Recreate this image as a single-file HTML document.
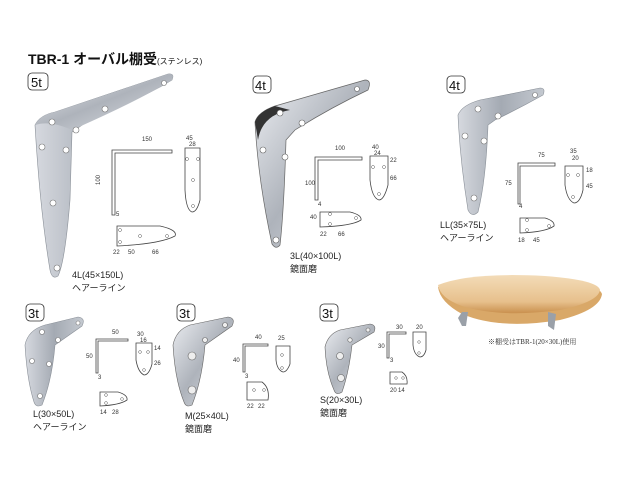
<!DOCTYPE html>
<html><head><meta charset="utf-8"><style>
html,body{margin:0;padding:0;background:#fff;}
svg{display:block;font-family:"Liberation Sans","Noto Sans CJK JP",sans-serif;}
.t{font-size:9px;fill:#222}
.d{font-size:6px;fill:#333}
.ln{stroke:#444;stroke-width:0.8;fill:none}
.b{font-size:13px;fill:#111}
</style></head><body>
<svg width="617" height="488" viewBox="0 0 617 488">
<defs>
<linearGradient id="m1" x1="0" y1="0" x2="1" y2="0"><stop offset="0" stop-color="#d6d9df"/><stop offset="0.5" stop-color="#a4aab3"/><stop offset="1" stop-color="#c4c9d0"/></linearGradient>
<linearGradient id="m2" x1="0" y1="0" x2="1" y2="1"><stop offset="0" stop-color="#eceef2"/><stop offset="0.5" stop-color="#aeb3bb"/><stop offset="1" stop-color="#dfe2e7"/></linearGradient>
<linearGradient id="wd" x1="0" y1="0" x2="0" y2="1"><stop offset="0" stop-color="#f3dcb8"/><stop offset="0.7" stop-color="#e7c08c"/><stop offset="1" stop-color="#c9904e"/></linearGradient>
</defs>
<text x="28" y="64" font-size="14" font-weight="bold" fill="#111">TBR-1 オーバル棚受<tspan font-size="8" font-weight="normal">(ステンレス)</tspan></text>
<g fill="none" stroke="#333" stroke-width="0.8">
<rect x="28" y="73" width="20" height="17" rx="4"/>
<rect x="253" y="76" width="18" height="17" rx="4"/>
<rect x="447" y="76" width="18" height="17" rx="4"/>
<rect x="26" y="304" width="18" height="17" rx="4"/>
<rect x="177" y="304" width="18" height="17" rx="4"/>
<rect x="320" y="304" width="18" height="17" rx="4"/>
</g>
<text x="31" y="87" class="b">5t</text>
<text x="255" y="90" class="b">4t</text>
<text x="449" y="90" class="b">4t</text>
<text x="28" y="318" class="b">3t</text>
<text x="179" y="318" class="b">3t</text>
<text x="322" y="318" class="b">3t</text>

<path d="M35,125 Q40,115 55,112 L168,74 Q175,73 172,80 Q140,100 110,106 L72,132 L70,200 Q65,262 58,276 Q52,280 50,270 Q40,210 35,125Z" fill="url(#m1)" stroke="#8a9098" stroke-width="0.6"/>
<path d="M35,125 Q40,115 55,112 L168,74 Q175,73 172,80 Q140,100 72,130 Q50,120 35,125Z" fill="url(#m2)"/>
<g fill="#fff" stroke="#777" stroke-width="0.6"><circle cx="42" cy="147" r="3"/><circle cx="66" cy="150" r="3"/><circle cx="53" cy="203" r="3"/><circle cx="57" cy="268" r="3"/><circle cx="52" cy="122" r="3"/><circle cx="76" cy="130" r="3"/><circle cx="105" cy="109" r="3"/><circle cx="164" cy="83" r="2.5"/></g>
<path class="ln" d="M112,150 L112,215 L115,215 L115,153 L172,153 L172,150Z"/>
<text x="142" y="141" class="d">150</text><text x="95" y="180" class="d" transform="rotate(-90 100 180)">100</text><text x="116" y="216" class="d">5</text>
<path class="ln" d="M185,148 L200,148 L200,200 Q197,212 192,212 Q186,210 185,190Z"/>
<text x="186" y="140" class="d">45</text><text x="189" y="146" class="d">28</text>
<g fill="#fff" stroke="#555" stroke-width="0.5"><circle cx="187" cy="159" r="1.5"/><circle cx="198" cy="159" r="1.5"/><circle cx="193" cy="180" r="1.5"/><circle cx="193" cy="206" r="1.5"/></g>
<path class="ln" d="M117,226 L160,226 Q178,230 175,236 Q160,244 117,246Z"/>
<g fill="#fff" stroke="#555" stroke-width="0.5"><circle cx="120" cy="230" r="1.5"/><circle cx="120" cy="242" r="1.5"/><circle cx="140" cy="236" r="1.5"/><circle cx="167" cy="236" r="1.5"/></g>
<text x="113" y="254" class="d">22</text><text x="128" y="254" class="d">50</text><text x="152" y="254" class="d">66</text>
<text x="72" y="278" class="t">4L(45×150L)</text><text x="72" y="291" class="t">ヘアーライン</text>

<path d="M255,122 Q258,112 275,106 L365,80 Q372,80 368,90 Q330,108 295,130 L286,140 Q284,210 280,245 Q276,250 272,244 Q258,180 255,122Z" fill="url(#m2)" stroke="#666" stroke-width="0.7"/>
<path d="M255,122 Q258,112 275,106 L290,110 Q262,115 258,140Z" fill="#333"/>
<g fill="#fff" stroke="#666" stroke-width="0.6"><circle cx="263" cy="150" r="3"/><circle cx="285" cy="157" r="3"/><circle cx="276" cy="240" r="3"/><circle cx="280" cy="113" r="3"/><circle cx="302" cy="123" r="3"/><circle cx="357" cy="89" r="2.5"/></g>
<path class="ln" d="M315,157 L315,200 L318,200 L318,160 L362,160 L362,157Z"/>
<text x="335" y="150" class="d">100</text><text x="305" y="185" class="d">100</text><text x="318" y="206" class="d">4</text>
<path class="ln" d="M370,156 L388,156 L388,185 Q384,200 379,200 Q372,198 370,180Z"/>
<text x="372" y="149" class="d">40</text><text x="374" y="155" class="d">24</text><text x="390" y="162" class="d">22</text><text x="390" y="180" class="d">66</text>
<g fill="#fff" stroke="#555" stroke-width="0.5"><circle cx="373" cy="167" r="1.5"/><circle cx="384" cy="167" r="1.5"/><circle cx="379" cy="194" r="1.5"/></g>
<path class="ln" d="M320,212 L350,212 Q362,215 361,220 Q352,226 320,227Z"/>
<g fill="#fff" stroke="#555" stroke-width="0.5"><circle cx="330" cy="214" r="1.5"/><circle cx="330" cy="224" r="1.5"/><circle cx="356" cy="218" r="1.5"/></g>
<text x="310" y="219" class="d">40</text><text x="320" y="236" class="d">22</text><text x="338" y="236" class="d">66</text>
<text x="290" y="259" class="t">3L(40×100L)</text><text x="290" y="272" class="t">鏡面磨</text>

<path d="M458,115 Q462,105 480,100 L540,88 Q546,88 543,95 Q520,108 495,120 L488,125 Q486,180 478,212 Q472,218 468,210 Q460,160 458,115Z" fill="url(#m1)" stroke="#8a9098" stroke-width="0.6"/>
<g fill="#fff" stroke="#777" stroke-width="0.6"><circle cx="465" cy="136" r="3"/><circle cx="484" cy="141" r="3"/><circle cx="474" cy="198" r="3"/><circle cx="478" cy="109" r="3"/><circle cx="498" cy="116" r="3"/><circle cx="535" cy="95" r="2.5"/></g>
<path class="ln" d="M518,163 L518,204 L520,204 L520,166 L555,166 L555,163Z"/>
<text x="538" y="157" class="d">75</text><text x="505" y="185" class="d">75</text><text x="519" y="208" class="d">4</text>
<path class="ln" d="M565,166 L583,166 L583,190 Q580,203 574,203 Q567,200 565,185Z"/>
<text x="570" y="153" class="d">35</text><text x="572" y="160" class="d">20</text><text x="586" y="172" class="d">18</text><text x="586" y="188" class="d">45</text>
<g fill="#fff" stroke="#555" stroke-width="0.5"><circle cx="568" cy="175" r="1.5"/><circle cx="578" cy="175" r="1.5"/><circle cx="573" cy="197" r="1.5"/></g>
<path class="ln" d="M520,218 L545,218 Q555,221 554,226 Q546,232 520,233Z"/>
<g fill="#fff" stroke="#555" stroke-width="0.5"><circle cx="527" cy="220" r="1.5"/><circle cx="527" cy="230" r="1.5"/><circle cx="549" cy="226" r="1.5"/></g>
<text x="518" y="242" class="d">18</text><text x="533" y="242" class="d">45</text>
<text x="440" y="228" class="t">LL(35×75L)</text><text x="440" y="241" class="t">ヘアーライン</text>

<path d="M438,287 Q470,274 545,278 Q598,282 602,294 Q600,310 560,320 Q500,330 462,314 Q440,302 438,287Z" fill="#d9a868"/>
<path d="M438,285 Q470,272 545,276 Q598,280 600,290 Q598,302 560,310 Q500,318 462,306 Q440,298 438,285Z" fill="url(#wd)"/>
<path d="M462,312 L458,318 L462,326 L466,326 L468,312Z" fill="#9aa0a8"/>
<path d="M548,312 L548,326 L554,330 L556,314Z" fill="#9aa0a8"/>
<text x="488" y="344" font-size="7" fill="#333" font-family="Liberation Serif,'Noto Serif CJK SC',serif">※棚受はTBR-1(20×30L)使用</text>

<path d="M25,345 Q28,330 45,325 L78,317 Q86,318 82,326 L55,345 Q52,380 42,405 Q36,408 34,402 Q27,380 25,345Z" fill="url(#m1)" stroke="#8a9098" stroke-width="0.6"/>
<g fill="#fff" stroke="#777" stroke-width="0.6"><circle cx="32" cy="361" r="2.5"/><circle cx="49" cy="364" r="2.5"/><circle cx="40" cy="396" r="2.5"/><circle cx="42" cy="332" r="2.5"/><circle cx="58" cy="340" r="2.5"/><circle cx="78" cy="323" r="2"/></g>
<path d="M173,345 Q176,330 190,325 L228,317 Q236,318 232,326 L205,345 Q202,380 192,405 Q186,408 184,402 Q175,380 173,345Z" fill="url(#m2)" stroke="#666" stroke-width="0.6"/>
<g fill="#eee" stroke="#666" stroke-width="0.6"><circle cx="192" cy="356" r="4"/><circle cx="192" cy="390" r="4"/><circle cx="205" cy="340" r="2.5"/><circle cx="225" cy="325" r="2.5"/></g>
<path d="M325,347 Q328,334 340,330 L370,324 Q377,325 374,332 L352,345 Q349,372 342,392 Q336,396 334,390 Q326,372 325,347Z" fill="url(#m2)" stroke="#666" stroke-width="0.6"/>
<g fill="#eee" stroke="#666" stroke-width="0.6"><circle cx="340" cy="356" r="3.5"/><circle cx="341" cy="378" r="3.5"/><circle cx="350" cy="340" r="2.2"/><circle cx="368" cy="330" r="2"/></g>

<path class="ln" d="M96,339 L96,373 L98,373 L98,341 L128,341 L128,339Z"/>
<text x="112" y="334" class="d">50</text><text x="86" y="358" class="d">50</text><text x="98" y="379" class="d">3</text>
<path class="ln" d="M136,343 L152,343 L152,364 Q149,375 144,375 Q138,372 136,360Z"/>
<text x="137" y="336" class="d">30</text><text x="140" y="342" class="d">16</text><text x="154" y="350" class="d">14</text><text x="154" y="365" class="d">26</text>
<g fill="#fff" stroke="#555" stroke-width="0.5"><circle cx="140" cy="352" r="1.4"/><circle cx="148" cy="352" r="1.4"/><circle cx="144" cy="370" r="1.4"/></g>
<path class="ln" d="M100,392 L118,392 Q128,395 127,400 Q120,405 100,406Z"/>
<g fill="#fff" stroke="#555" stroke-width="0.5"><circle cx="106" cy="395" r="1.4"/><circle cx="106" cy="403" r="1.4"/><circle cx="122" cy="399" r="1.4"/></g>
<text x="100" y="414" class="d">14</text><text x="112" y="414" class="d">28</text>
<text x="33" y="417" class="t">L(30×50L)</text><text x="33" y="430" class="t">ヘアーライン</text>

<path class="ln" d="M243,344 L243,372 L245,372 L245,346 L268,346 L268,344Z"/>
<text x="255" y="339" class="d">40</text><text x="233" y="362" class="d">40</text><text x="245" y="378" class="d">3</text>
<path class="ln" d="M276,346 L290,346 L290,364 Q287,372 283,372 Q277,370 276,360Z"/>
<text x="278" y="340" class="d">25</text>
<g fill="#fff" stroke="#555" stroke-width="0.5"><circle cx="282" cy="355" r="1.4"/><circle cx="282" cy="368" r="1.4"/></g>
<path class="ln" d="M247,382 L262,382 Q270,388 268,400 L247,400Z"/>
<g fill="#fff" stroke="#555" stroke-width="0.5"><circle cx="254" cy="390" r="1.4"/><circle cx="264" cy="390" r="1.4"/></g>
<text x="247" y="408" class="d">22</text><text x="258" y="408" class="d">22</text>
<text x="185" y="419" class="t">M(25×40L)</text><text x="185" y="432" class="t">鏡面磨</text>

<path class="ln" d="M387,332 L387,358 L389,358 L389,334 L406,334 L406,332Z"/>
<text x="396" y="329" class="d">30</text><text x="378" y="348" class="d">30</text><text x="390" y="362" class="d">3</text>
<path class="ln" d="M413,332 L426,332 L426,350 Q424,357 420,357 Q414,355 413,345Z"/>
<text x="416" y="329" class="d">20</text>
<g fill="#fff" stroke="#555" stroke-width="0.5"><circle cx="419" cy="342" r="1.3"/><circle cx="419" cy="353" r="1.3"/></g>
<path class="ln" d="M390,372 L402,372 Q408,376 407,384 L390,384Z"/>
<g fill="#fff" stroke="#555" stroke-width="0.5"><circle cx="396" cy="378" r="1.3"/><circle cx="403" cy="378" r="1.3"/></g>
<text x="390" y="392" class="d">20</text><text x="398" y="392" class="d">14</text>
<text x="320" y="403" class="t">S(20×30L)</text><text x="320" y="416" class="t">鏡面磨</text>
</svg>
</body></html>
